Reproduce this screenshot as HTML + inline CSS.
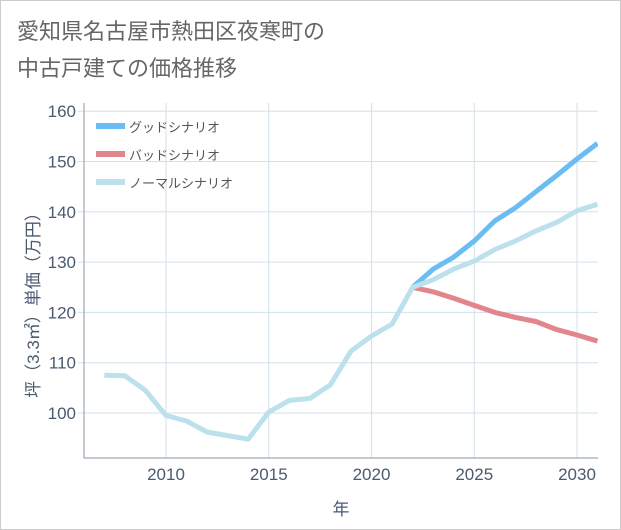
<!DOCTYPE html>
<html><head><meta charset="utf-8"><style>
body{margin:0;background:#fff;}
#wrap{position:relative;width:619px;height:528px;border:1px solid #ccc;background:#fff;font-family:"Liberation Sans","Noto Sans CJK JP",sans-serif;}
#title{position:absolute;left:16px;top:12px;font-size:22px;line-height:37px;color:#666;margin:0;font-weight:normal;}
svg{position:absolute;left:0;top:0;}
</style></head><body>
<div id="wrap">
<h1 id="title">愛知県名古屋市熱田区夜寒町の<br>中古戸建ての価格推移</h1>
<svg id="chart" width="619" height="528"></svg>
</div>
<script>
const xTicks=[2010,2015,2020,2025,2030];
const yTicks=[100,110,120,130,140,150,160];
const normalYears=[2007,2008,2009,2010,2011,2012,2013,2014,2015,2016,2017,2018,2019,2020,2021,2022,2023,2024,2025,2026,2027,2028,2029,2030,2031];
const normalVals=[107.5,107.4,104.5,99.5,98.4,96.2,95.5,94.8,100.2,102.5,102.9,105.6,112.3,115.3,117.7,125.0,126.5,128.6,130.2,132.5,134.2,136.2,137.9,140.2,141.5];
const futureYears=[2022,2023,2024,2025,2026,2027,2028,2029,2030,2031];
const goodVals=[125,128.6,131,134.2,138.2,140.8,144,147.2,150.5,153.6];
const badVals=[125,124.1,122.8,121.4,120,119,118.2,116.6,115.5,114.3];
const seriesNames=["グッドシナリオ","バッドシナリオ","ノーマルシナリオ"];

const NS="http://www.w3.org/2000/svg";
const svg=document.getElementById('chart');
const L=83,R=597,T=102,B=457;
const xs=y=>165+(y-2010)*20.55;
const ys=v=>412-(v-100)*5.03;
function mk(tag,attrs,parent){const e=document.createElementNS(NS,tag);for(const k in attrs)e.setAttribute(k,attrs[k]);(parent||svg).appendChild(e);return e;}

const grid=mk('g',{});


xTicks.forEach(t=>{
  const l=mk('line',{x1:xs(t),x2:xs(t),y1:T,y2:B,stroke:'#d3e0ea','stroke-width':1},grid);
  
  
  const tx=mk('text',{x:xs(t),y:B+22,'text-anchor':'middle','font-size':17,fill:'#4a5a70'});
  tx.textContent=t;
  
  
});
yTicks.forEach(t=>{
  const l=mk('line',{x1:L-6,x2:R,y1:ys(t),y2:ys(t),stroke:'#d3e0ea','stroke-width':1},grid);
  
  
  const tx=mk('text',{x:L-8,y:ys(t)+6,'text-anchor':'end','font-size':17,fill:'#4a5a70'});
  tx.textContent=t;
  
  
});
const ax=mk('path',{d:`M${L},${T} V${B} H${R}`,fill:'none',stroke:'#8a96a6','stroke-width':1});



function line(years,vals,color,name){
  const d=years.map((y,i)=>(i?'L':'M')+xs(y).toFixed(1)+','+ys(vals[i]).toFixed(1)).join(' ');
  const p=mk('path',{d:d,fill:'none',stroke:color,'stroke-width':5,'stroke-linejoin':'round','stroke-linecap':'butt'});
  
  
}
const clip=mk('clipPath',{id:'c'});mk('rect',{x:L,y:T,width:R-L,height:B-T},clip);
line(futureYears,goodVals,'#6bbcf3','good-scenario-line');
line(futureYears,badVals,'#e0868c','bad-scenario-line');
line(normalYears,normalVals,'#bde0ed','normal-scenario-line');
svg.querySelectorAll('path[stroke-width="5"]').forEach(p=>p.setAttribute('clip-path','url(#c)'));

const colors=['#6bbcf3','#e0868c','#bde0ed'];
seriesNames.forEach((n,i)=>{
  const g=mk('g',{});
  
  
  mk('rect',{x:95,y:122+i*28,width:29,height:6,fill:colors[i]},g);
  const t=mk('text',{x:128,y:131+i*28,'font-size':13,fill:'#555'},g);
  t.textContent=n;
});

const xt=mk('text',{x:340,y:514,'text-anchor':'middle','font-size':17,fill:'#4a5a70'});
xt.textContent='年';


const yt=mk('text',{x:0,y:0,'text-anchor':'middle','font-size':17,fill:'#4a5a70',transform:'translate(38,300) rotate(-90)'});
yt.textContent='坪（3.3㎡）単価（万円）';


</script>
</body></html>
